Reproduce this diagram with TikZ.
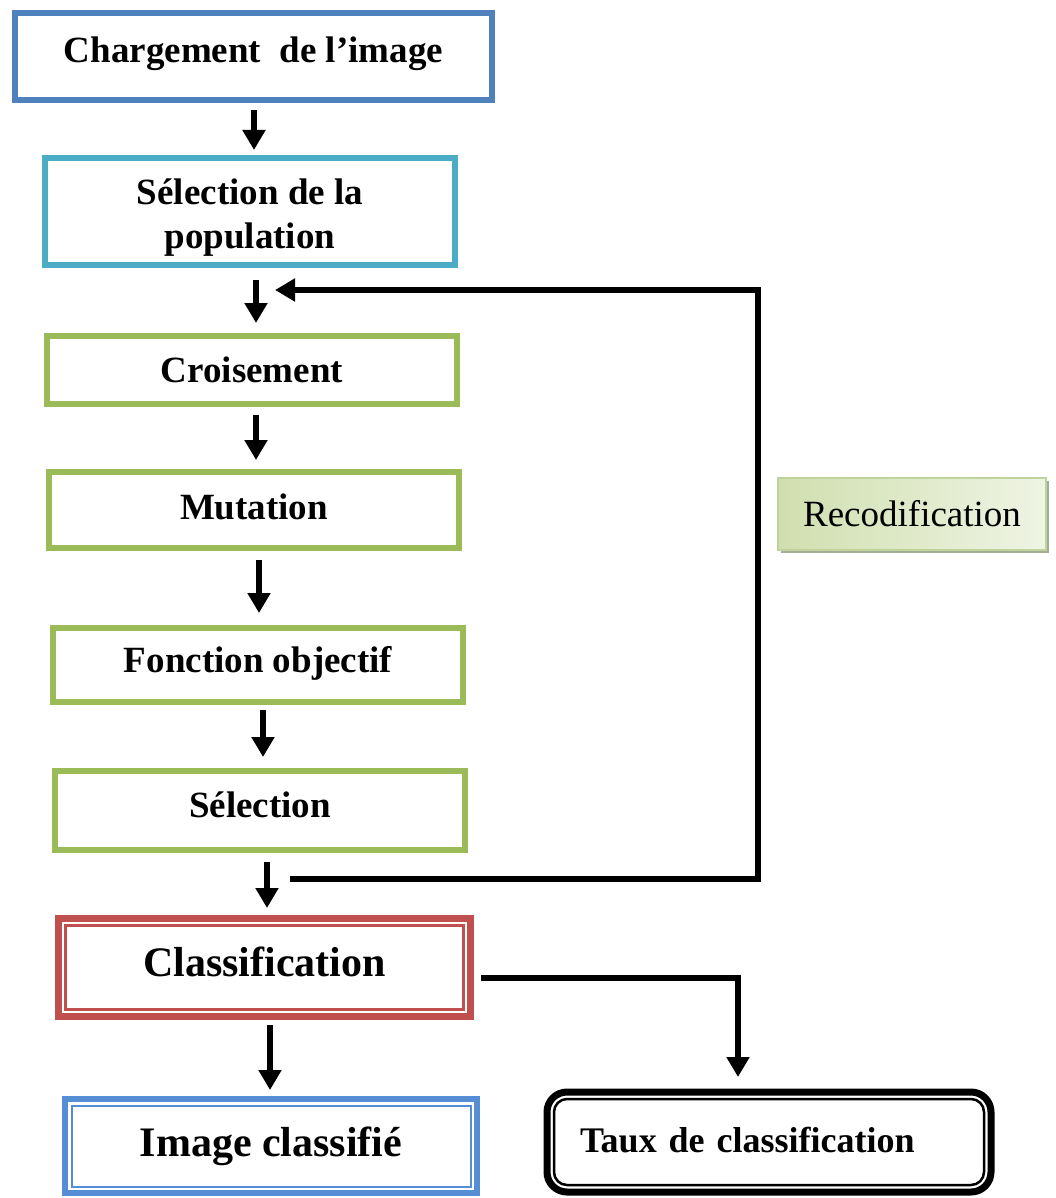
\documentclass[tikz,border=0pt]{standalone}
\usepackage{fontspec}
\setmainfont{Liberation Serif}
\usetikzlibrary{arrows.meta,calc,shadows}

\definecolor{bxblue}{HTML}{4F81BD}
\definecolor{bxcyan}{HTML}{4BACC6}
\definecolor{bxgreen}{HTML}{9BBB59}
\definecolor{bxred}{HTML}{C0504D}
\definecolor{bxsky}{HTML}{558ED5}
\definecolor{rcL}{HTML}{D0DFAF}
\definecolor{rcR}{HTML}{EFF4E4}
\definecolor{rcedge}{HTML}{BFD39A}
\definecolor{rcshadow}{HTML}{A3AC95}

% move a label up or down without changing its box size
\newcommand{\vnudge}[2]{\raisebox{#1}[\height][\depth]{#2}}

\begin{document}
\begin{tikzpicture}[x=1pt,y=-1pt,
  box/.style={draw, line width=6pt, outer sep=0pt, inner sep=0pt, fill=white,
    align=center, font=\bfseries\fontsize{37}{44}\selectfont},
  arr/.style={line width=5.5pt, line join=miter, -{Triangle[width=22pt,length=20pt]}}]

\useasboundingbox (0,0) rectangle (1056,1198);
\fill[white] (0,0) rectangle (1056,1198);

% main chain of steps
\node[box, draw=bxblue, minimum width=477pt, minimum height=87pt] (load) at (253.5,56.5) {\vnudge{3pt}{Chargement\ \ de l’image}};
\node[box, draw=bxcyan, minimum width=410pt, minimum height=107pt] (pop) at (250,211.5)
  {\vnudge{-6pt}{\begin{tabular}{@{}c@{}}Sélection de la\\population\end{tabular}}};
\node[box, draw=bxgreen, minimum width=410pt, minimum height=68pt] (cross) at (252,370) {Croisement};
\node[box, draw=bxgreen, minimum width=410pt, minimum height=76pt] (mut) at (254,510) {\vnudge{3pt}{Mutation}};
\node[box, draw=bxgreen, minimum width=410pt, minimum height=74pt] (obj) at (258,665) {\vnudge{2pt}{Fonction objectif}};
\node[box, draw=bxgreen, minimum width=410pt, minimum height=79pt] (sel) at (260,810.5) {\vnudge{6pt}{Sélection}};

% classification with double frame
\node[box, draw=bxred, line width=7pt, minimum width=412pt, minimum height=98pt,
  font=\bfseries\fontsize{42}{50}\selectfont] (class) at (264.5,967.5) {\vnudge{6pt}{Classification}};
\draw[bxred, line width=2.5pt] ($(class.north west)+(7,7)$) rectangle ($(class.south east)+(-7,-7)$);

% classified image with double frame
\node[box, draw=bxsky, line width=6pt, minimum width=412pt, minimum height=94pt,
  font=\bfseries\fontsize{42}{50}\selectfont] (out) at (271,1146) {Image classifié};
\draw[bxsky, line width=2pt] ($(out.north west)+(6.5,6.5)$) rectangle ($(out.south east)+(-6.5,-6.5)$);

% classification rate, rounded double frame
\node[box, draw=black, line width=7pt, rounded corners=20pt, minimum width=444pt, minimum height=100pt,
  text width=378pt, align=left, font=\bfseries\fontsize{36}{43}\selectfont] (rate) at (769,1142) {\vnudge{2pt}{Taux de classification}};
\draw[line width=2.5pt, rounded corners=13pt] ($(rate.north west)+(7,7)$) rectangle ($(rate.south east)+(-7,-7)$);

% recoding label
\node[draw=rcedge, line width=1.5pt, left color=rcL, right color=rcR, outer sep=0pt, inner sep=0pt,
  minimum width=268pt, minimum height=72pt, font=\fontsize{37}{44}\selectfont,
  drop shadow={shadow xshift=3pt, shadow yshift=-3pt, fill=rcshadow, opacity=1}] (recod) at (912,514) {Recodification};

% connectors
\draw[arr] ($(load.south)+(0.5,10)$) -- ($(load.south |- pop.north)+(0.5,-8)$);
\draw[arr] ($(cross.north |- pop.south)+(4,15)$) -- ($(cross.north)+(4,-13)$);
\draw[arr] ($(mut.north |- cross.south)+(2,11)$) -- ($(mut.north)+(2,-12)$);
\draw[arr] ($(obj.north |- mut.south)+(1,12)$) -- ($(obj.north)+(1,-15)$);
\draw[arr] ($(sel.north |- obj.south)+(3,8)$) -- ($(sel.north)+(3,-14)$);
\draw[arr] ($(class.north |- sel.south)+(2.5,12)$) -- ($(class.north)+(2.5,-10.5)$);
\draw[arr] ($(out.north |- class.south)+(-1,8.5)$) -- ($(out.north)+(-1,-9)$);

% feedback loop
\coordinate (fbOut) at ($(sel.south)+(30,29)$);
\coordinate (fbIn) at ($(cross.north)+(23,-46)$);
\coordinate (fbSide) at ($(recod.west)+(-20,0)$);
\draw[arr] (fbOut) -| (fbSide) |- (fbIn);

% classification to rate
\draw[arr] ($(class.east)+(10.5,10.5)$) -| ($(rate.north)+(-31,-15)$);

\end{tikzpicture}
\end{document}
